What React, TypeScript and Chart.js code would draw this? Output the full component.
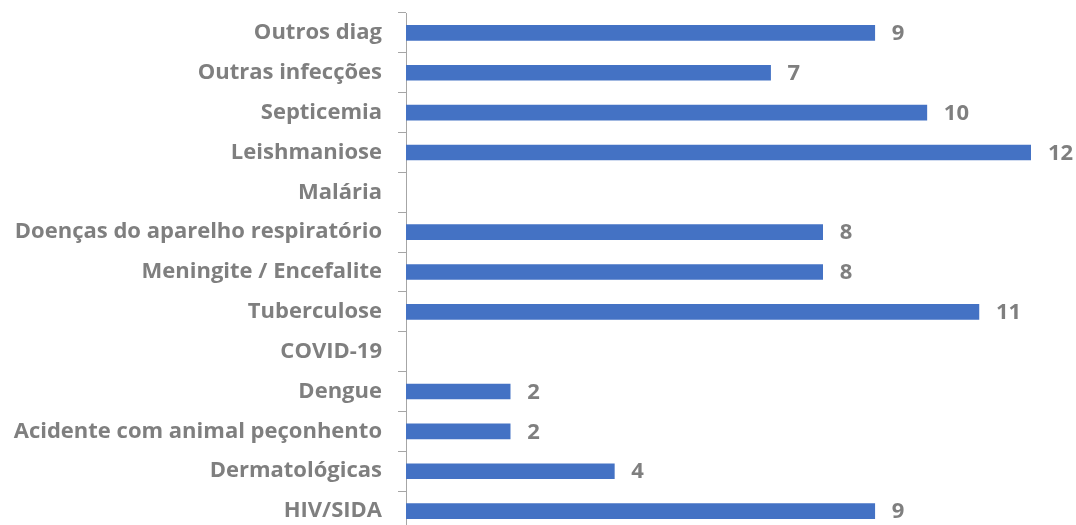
import React, { useEffect, useRef } from "react";
import { Chart, registerables } from "chart.js";

Chart.register(...registerables);

const categories = [
  "Outros diag",
  "Outras infecções",
  "Septicemia",
  "Leishmaniose",
  "Malária",
  "Doenças do aparelho respiratório",
  "Meningite / Encefalite",
  "Tuberculose",
  "COVID-19",
  "Dengue",
  "Acidente com animal peçonhento",
  "Dermatológicas",
  "HIV/SIDA",
];

const values = [9, 7, 10, 12, 0, 8, 8, 11, 0, 2, 2, 4, 9];

const xMin = 0;
const xMax = 12;

const FONT = "'Open Sans', 'Liberation Sans', sans-serif";
const GREY = "#7f7f7f";

const valueLabels = {
  id: "valueLabels",
  afterDatasetsDraw(chart: any) {
    const ctx = chart.ctx;
    const meta = chart.getDatasetMeta(0);
    ctx.save();
    ctx.font = `bold 22px ${FONT}`;
    ctx.fillStyle = GREY;
    ctx.textAlign = "left";
    ctx.textBaseline = "middle";
    meta.data.forEach((bar: any, i: number) => {
      const v = values[i];
      if (!v) return;
      ctx.fillText(String(v), bar.x + 17, bar.y + 1);
    });
    ctx.restore();
  },
};

export default function App() {
  const ref = useRef<HTMLCanvasElement | null>(null);
  useEffect(() => {
    if (!ref.current) return;
    const chart = new Chart(ref.current, {
      type: "bar",
      data: {
        labels: categories,
        datasets: [
          {
            data: values.map((v) => (v === 0 ? null : v)),
            backgroundColor: "#4472C4",
            borderWidth: 0,
            barThickness: 15,
          },
        ],
      },
      options: {
        indexAxis: "y",
        responsive: false,
        animation: false,
        layout: { padding: { top: 13, right: 45, bottom: 0, left: 0 } },
        plugins: {
          legend: { display: false },
          tooltip: { enabled: false },
        },
        scales: {
          x: {
            display: false,
            min: xMin,
            max: xMax,
          },
          y: {
            afterFit(axis: any) {
              axis.width = 406;
              axis.paddingTop = 0;
              axis.paddingBottom = 0;
            },
            border: { display: true, color: "#a6a6a6", width: 1 },
            grid: {
              display: true,
              offset: true,
              drawOnChartArea: false,
              drawTicks: true,
              tickLength: 8,
              color: "#a6a6a6",
            },
            ticks: {
              color: GREY,
              padding: 16,
              font: { family: FONT, size: 22, weight: "bold" },
              autoSkip: false,
            },
          },
        },
      },
      plugins: [valueLabels],
    });
    return () => chart.destroy();
  }, []);
  return (
    <div style={{ position: "fixed", top: 0, left: 0, width: 1076, height: 531, background: "#fff" }}>
      <canvas ref={ref} width={1076} height={531} />
    </div>
  );
}
